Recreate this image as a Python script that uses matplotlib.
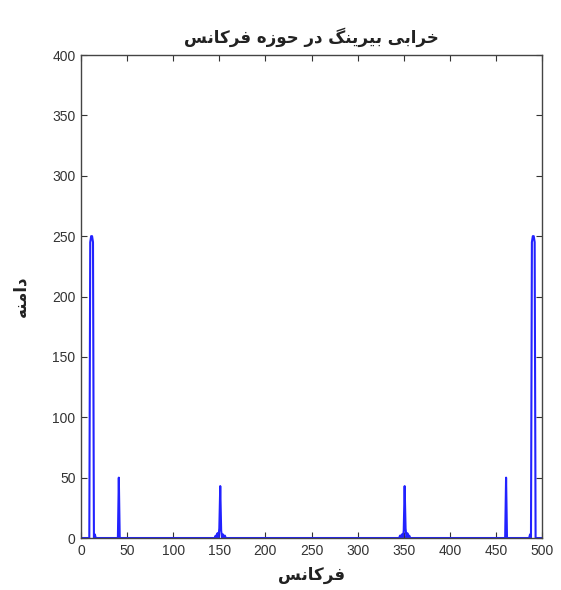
import numpy as np
import matplotlib.pyplot as plt

# Persian letters -> (isolated, final, initial, medial) presentation forms
ARABIC_FORMS = {
    'ا': ('\uFE8D', '\uFE8E', None, None),
    'ب': ('\uFE8F', '\uFE90', '\uFE91', '\uFE92'),
    'ح': ('\uFEA1', '\uFEA2', '\uFEA3', '\uFEA4'),
    'خ': ('\uFEA5', '\uFEA6', '\uFEA7', '\uFEA8'),
    'د': ('\uFEA9', '\uFEAA', None, None),
    'ر': ('\uFEAD', '\uFEAE', None, None),
    'ز': ('\uFEAF', '\uFEB0', None, None),
    'س': ('\uFEB1', '\uFEB2', '\uFEB3', '\uFEB4'),
    'ف': ('\uFED1', '\uFED2', '\uFED3', '\uFED4'),
    'ک': ('\uFB8E', '\uFB8F', '\uFB90', '\uFB91'),
    'گ': ('\uFB92', '\uFB93', '\uFB94', '\uFB95'),
    'م': ('\uFEE1', '\uFEE2', '\uFEE3', '\uFEE4'),
    'ن': ('\uFEE5', '\uFEE6', '\uFEE7', '\uFEE8'),
    'ه': ('\uFEE9', '\uFEEA', '\uFEEB', '\uFEEC'),
    'و': ('\uFEED', '\uFEEE', None, None),
    'ی': ('\uFBFC', '\uFBFD', '\uFBFE', '\uFBFF'),
}


def shape_rtl(text):
    # matplotlib has no shaping/bidi, so pick joined forms and reverse
    out = []
    for i, ch in enumerate(text):
        forms = ARABIC_FORMS.get(ch)
        if forms is None:
            out.append(ch)
            continue
        prev = text[i - 1] if i > 0 else ''
        nxt = text[i + 1] if i + 1 < len(text) else ''
        joins_prev = prev in ARABIC_FORMS and ARABIC_FORMS[prev][2] is not None
        joins_next = forms[2] is not None and nxt in ARABIC_FORMS
        if joins_prev and joins_next:
            out.append(forms[3])
        elif joins_prev:
            out.append(forms[1])
        elif joins_next:
            out.append(forms[2])
        else:
            out.append(forms[0])
    return ''.join(reversed(out))


title_text = 'خرابی بیرینگ در حوزه فرکانس'
xlabel_text = 'فرکانس'
ylabel_text = 'دامنه'

# spectrum magnitude, bins 1..500; everything not listed is ~0
n_bins = 500
peak_bins = [10, 11, 12, 13, 15, 41,
             146, 148, 150, 151, 152, 154, 156,
             346, 348, 350, 351, 352, 354, 356,
             461, 487, 489, 490, 491, 492]
peak_amps = [245, 250, 250, 245, 3, 50,
             2, 4, 8, 43, 6, 3, 2,
             2, 3, 6, 43, 8, 4, 2,
             50, 3, 245, 250, 250, 245]

xticks = [0, 50, 100, 150, 200, 250, 300, 350, 400, 450, 500]
yticks = [0, 50, 100, 150, 200, 250, 300, 350, 400]

freq = np.arange(1, n_bins + 1)
amp = np.zeros(n_bins)
for b, a in zip(peak_bins, peak_amps):
    amp[b - 1] = a

plt.rcParams['font.family'] = ['Liberation Sans', 'DejaVu Sans']

fig = plt.figure(figsize=(5.61, 5.90), dpi=100)
ax = fig.add_axes([0.1444, 0.0881, 0.8218, 0.8186])

ax.plot(freq, amp, color='#2222ff', linewidth=1.5)

ax.set_xlim(0, 500)
ax.set_ylim(0, 400)
ax.set_xticks(xticks)
ax.set_yticks(yticks)
ax.tick_params(direction='in', top=True, right=True, length=4, width=0.8,
               labelsize=10, colors='#333333', pad=4)
for s in ax.spines.values():
    s.set_color('#444444')
    s.set_linewidth(1.0)

ax.set_title(shape_rtl(title_text), family=['DejaVu Sans'], fontweight='bold',
             fontsize=12, color='#222222', pad=9)
ax.set_xlabel(shape_rtl(xlabel_text), family=['DejaVu Sans'], fontweight='bold',
              fontsize=12, color='#222222', labelpad=6)
ax.set_ylabel(shape_rtl(ylabel_text), family=['DejaVu Sans'], fontweight='bold',
              fontsize=12, color='#222222', labelpad=16)

fig.savefig('out.png', dpi=100)
